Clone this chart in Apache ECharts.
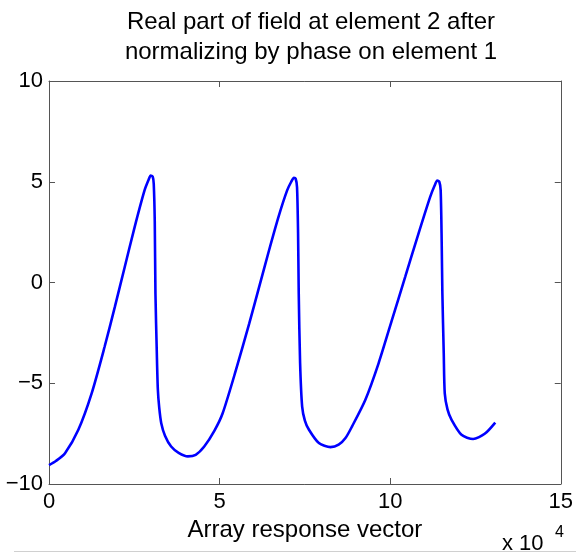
<!DOCTYPE html>
<html>
<head>
<meta charset="utf-8">
<script src="https://cdn.jsdelivr.net/npm/echarts/dist/echarts.min.js"></script>
<style>
  html, body { margin: 0; padding: 0; background: #fff; }
  #chart { width: 576px; height: 553px; }
</style>
</head>
<body>
<div id="chart"></div>
<script>
// ---- data (x in units of 10^4) ----
const titleLines = ["Real part of field at element 2 after", "normalizing by phase on element 1"];
const xAxisName = "Array response vector";
const xTicks = [0, 5, 10, 15];
const yTicks = [-10, -5, 0, 5, 10];
const xVals = [0.0, 0.2, 0.47, 0.86, 1.25, 1.63, 1.93, 2.22, 2.51, 2.80, 2.92, 2.98, 3.04, 3.07, 3.10, 3.12, 3.16, 3.19, 3.23, 3.29, 3.40, 3.58, 3.80, 4.07, 4.30, 4.55, 4.85, 5.09, 5.48, 5.87, 6.16, 6.45, 6.74, 6.98, 7.10, 7.18, 7.23, 7.27, 7.30, 7.32, 7.36, 7.42, 7.50, 7.62, 7.91, 8.25, 8.49, 8.69, 8.88, 9.27, 9.66, 10.05, 10.44, 10.83, 11.17, 11.30, 11.38, 11.44, 11.48, 11.51, 11.53, 11.57, 11.60, 11.68, 11.80, 12.09, 12.43, 12.77, 13.08];
const yVals = [-9.06, -8.86, -8.47, -7.31, -5.5, -3.19, -1.21, 0.77, 2.75, 4.57, 5.1, 5.31, 5.25, 4.9, 3.0, -0.55, -3.5, -5.3, -6.2, -6.98, -7.6, -8.14, -8.45, -8.63, -8.55, -8.14, -7.35, -6.49, -4.34, -2.03, -0.22, 1.6, 3.33, 4.57, 5.0, 5.2, 5.15, 4.73, 2.5, -0.55, -4.0, -6.16, -6.85, -7.31, -7.97, -8.17, -8.05, -7.72, -7.15, -5.83, -4.01, -1.87, 0.28, 2.43, 4.24, 4.8, 5.06, 5.0, 4.57, 2.0, -0.55, -3.5, -5.5, -6.3, -6.82, -7.56, -7.77, -7.51, -6.95];

const FONT = "'Liberation Sans', Arial, Helvetica, sans-serif";
const AX = '#555';

const chart = echarts.init(document.getElementById('chart'), null, { renderer: 'canvas' });

function baseAxis(extra) {
  return Object.assign({
    type: 'value',
    axisLine: { show: true, onZero: false, lineStyle: { color: AX, width: 1 } },
    axisTick: { show: true, inside: true, length: 6, lineStyle: { color: AX, width: 1 } },
    splitLine: { show: false }
  }, extra);
}

const xMin = xTicks[0], xMax = xTicks[xTicks.length - 1], xInt = xTicks[1] - xTicks[0];
const yMin = yTicks[0], yMax = yTicks[yTicks.length - 1], yInt = yTicks[1] - yTicks[0];

const option = {
  animation: false,
  backgroundColor: '#fff',
  title: {
    text: titleLines.join('\n'),
    left: 306, top: 2, textAlign: 'center',
    textStyle: { fontFamily: FONT, fontSize: 24, fontWeight: 'normal', color: '#000', lineHeight: 30 }
  },
  grid: { left: 49, right: 14, top: 81, bottom: 69 },
  xAxis: [
    baseAxis({
      position: 'bottom', min: xMin, max: xMax, interval: xInt,
      axisLabel: { show: true, fontFamily: FONT, fontSize: 22, color: '#000', margin: 7 },
      name: xAxisName, nameLocation: 'middle', nameGap: 31,
      nameTextStyle: { fontFamily: FONT, fontSize: 24, color: '#000' }
    }),
    baseAxis({ position: 'top', min: xMin, max: xMax, interval: xInt, axisLabel: { show: false } })
  ],
  yAxis: [
    baseAxis({
      position: 'left', min: yMin, max: yMax, interval: yInt,
      axisLabel: { show: true, fontFamily: FONT, fontSize: 22, color: '#000', margin: 6,
        formatter: v => String(v).replace('-', '\u2212') }
    }),
    baseAxis({ position: 'right', min: yMin, max: yMax, interval: yInt, axisLabel: { show: false } })
  ],
  series: [{
    type: 'line',
    data: xVals.map((x, i) => [x, yVals[i]]),
    showSymbol: false,
    smooth: 0.25,
    lineStyle: { color: '#0000ff', width: 2.6 },
    itemStyle: { color: '#0000ff' }
  }],
  graphic: [
    { type: 'text', left: 502, top: 533, style: { text: 'x 10', font: "22px " + FONT, fill: '#000' } },
    { type: 'text', left: 555, top: 525, style: { text: '4', font: "16px " + FONT, fill: '#000' } },
    { type: 'line', shape: { x1: 14, y1: 551.5, x2: 576, y2: 551.5 }, style: { stroke: '#d0d0d0', lineWidth: 1 } }
  ]
};
chart.setOption(option);
</script>
</body>
</html>
